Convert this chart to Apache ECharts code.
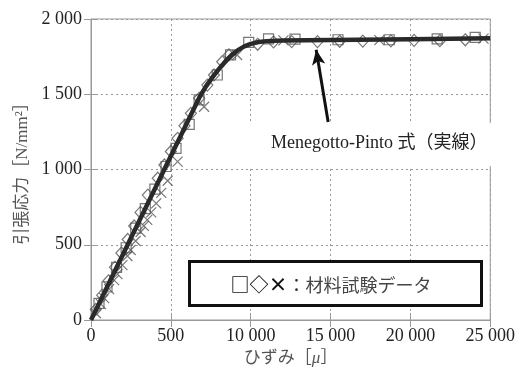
<!DOCTYPE html>
<html>
<head>
<meta charset="utf-8">
<script src="https://cdn.jsdelivr.net/npm/echarts@6/dist/echarts.min.js"></script>
<style>
html,body{margin:0;padding:0;background:#fff;}
#main{width:518px;height:377px;}
</style>
</head>
<body>
<div id="main"></div>
<script>
// ---- data ----
const xTickLabels = ['0', '500', '10 000', '15 000', '20 000', '25 000'];
const yTickLabels = ['0', '500', '1 000', '1 500', '2 000'];

// Menegotto-Pinto curve (strain μ, stress N/mm²)
const curveStrain = [0, 6800, 7200, 7600, 8000, 8400, 8800, 9200, 9600, 10000, 10500, 11000, 12000, 15000, 20000, 25000];
const curveStress = [0, 1482, 1552, 1612, 1667, 1717, 1760, 1793, 1818, 1835, 1847, 1853, 1857, 1861, 1866, 1872];

// test data: squares
const squareStrain = [500, 1000, 1600, 2200, 2800, 3400, 4000, 4700, 5323, 6149, 6770, 7907, 8739, 9876, 11118, 12774, 15466, 18675, 21677, 24058];
const squareStress = [110, 220, 350, 480, 610, 740, 870, 1020, 1141, 1300, 1462, 1628, 1761, 1845, 1868, 1866, 1862, 1862, 1868, 1878];

// test data: diamonds
const diamondStrain = [300, 700, 1100, 1500, 1900, 2300, 2700, 3100, 3559, 4180, 4596, 5000, 5422, 5850, 6255, 6770, 7286, 7702, 8217, 8634, 10435, 11429, 12567, 14182, 15570, 17019, 18778, 20228, 21843, 23437];
const diamondStress = [70, 165, 260, 350, 445, 535, 625, 715, 830, 942, 1030, 1120, 1207, 1290, 1373, 1473, 1561, 1628, 1716, 1761, 1832, 1848, 1850, 1850, 1852, 1853, 1855, 1858, 1856, 1862];

// test data: crosses
const crossStrain = [311, 621, 826, 1137, 1447, 1658, 1969, 2280, 2484, 2795, 3106, 3311, 3522, 3770, 4081, 4400, 4800, 5422, 7081, 9149, 12050, 18054, 24576];
const crossStress = [45, 105, 145, 205, 265, 305, 365, 425, 465, 525, 585, 625, 665, 715, 775, 845, 925, 1052, 1417, 1761, 1858, 1860, 1870];

// annotation arrow (data coords)
const arrowTail = [14850, 1316];
const arrowTip = [14100, 1795];

const annotationText = 'Menegotto-Pinto 式（実線）';
const legendSymbols = '□◇×';
const legendText = '材料試験データ';

const zip = (a, b) => a.map((v, i) => [v, b[i]]);

const serif = '"Liberation Serif", "Times New Roman", "Noto Sans CJK JP", serif';
const gridColor = '#999';

const chart = echarts.init(document.getElementById('main'), null, {renderer: 'canvas'});

const markerStyle = {color: 'transparent', borderColor: '#555', borderWidth: 1.2};

const axisX = (pos, show) => ({
  type: 'value', position: pos, min: 0, max: 25000, interval: 5000,
  axisLine: {show: show, lineStyle: {color: gridColor, width: 1}},
  axisTick: {show: true, inside: true, length: 7, lineStyle: {color: gridColor}},
  axisLabel: {show: show, margin: 7, color: '#222', fontFamily: serif, fontSize: 18,
    formatter: v => xTickLabels[Math.round(v / 5000)]},
  splitLine: {show: show, lineStyle: {color: gridColor, type: [2, 3], width: 1}}
});
const axisY = (pos, show) => ({
  type: 'value', position: pos, min: 0, max: 2000, interval: 500,
  axisLine: {show: show, lineStyle: {color: gridColor, width: 1}},
  axisTick: {show: true, inside: true, length: 7, lineStyle: {color: gridColor}},
  axisLabel: {show: show, margin: 9, color: '#222', fontFamily: serif, fontSize: 18,
    formatter: v => yTickLabels[Math.round(v / 500)]},
  splitLine: {show: show, lineStyle: {color: gridColor, type: [2, 3], width: 1}}
});

const xMain = axisX('bottom', true);
xMain.name = '{a|ひずみ［}{i|μ}{a|］}';
xMain.nameLocation = 'middle';
xMain.nameGap = 29;
xMain.nameTextStyle = {rich: {
  a: {fontFamily: serif, fontSize: 17, color: '#555'},
  i: {fontFamily: serif, fontSize: 17, color: '#555', fontStyle: 'italic'}
}};
const yMain = axisY('left', true);
yMain.name = '引張応力［N/mm²］';
yMain.nameLocation = 'middle';
yMain.nameGap = 58;
yMain.nameTextStyle = {fontFamily: serif, fontSize: 17, color: '#555'};

chart.setOption({
  animation: false,
  backgroundColor: '#fff',
  grid: {left: 91, right: 25, top: 19, bottom: 57, show: true, borderColor: gridColor, borderWidth: 1, backgroundColor: 'transparent'},
  xAxis: [xMain, axisX('top', false)],
  yAxis: [yMain, axisY('right', false)],
  series: [
    {type: 'scatter', name: 'square', data: zip(squareStrain, squareStress), symbol: 'rect', symbolSize: 10, itemStyle: markerStyle, z: 3},
    {type: 'scatter', name: 'diamond', data: zip(diamondStrain, diamondStress), symbol: 'diamond', symbolSize: [11, 12], itemStyle: markerStyle, z: 3},
    {type: 'scatter', name: 'cross', data: zip(crossStrain, crossStress), symbol: 'path://M0,0L10,10M10,0L0,10', symbolSize: 10, itemStyle: markerStyle, z: 3},
    {type: 'line', name: 'curve', data: zip(curveStrain, curveStress), showSymbol: false, smooth: false,
      lineStyle: {color: '#2a2a2a', width: 4.5, join: 'round'}, z: 5,
      markLine: {
        silent: true, symbol: ['none', 'arrow'], symbolSize: [10, 15],
        lineStyle: {color: '#111', width: 3, type: 'solid'},
        label: {show: false},
        data: [[{coord: arrowTail}, {coord: arrowTip}]]
      }
    }
  ],
  graphic: [
    {type: 'rect', z: 1, shape: {x: 247, y: 123, width: 244, height: 43}, style: {fill: '#fff'}},
    {type: 'text', z: 6, x: 271, y: 143, style: {text: annotationText, fontFamily: serif, fontSize: 18, fill: '#222', verticalAlign: 'middle'}},
    {type: 'rect', z: 6, shape: {x: 189.5, y: 261.5, width: 292, height: 44}, style: {fill: '#fff', stroke: '#111', lineWidth: 3}},
    {type: 'text', z: 7, x: 331, y: 285, style: {
      text: '{s|' + legendSymbols + '}{c|：}{t|' + legendText + '}',
      align: 'center', verticalAlign: 'middle',
      rich: {
        s: {fontFamily: '"Noto Sans CJK JP", sans-serif', fontSize: 19, fill: '#111', fontWeight: 'bold'},
        c: {fontFamily: '"Noto Sans CJK JP", sans-serif', fontSize: 18, fill: '#333'},
        t: {fontFamily: '"Noto Sans CJK JP", serif', fontSize: 18, fill: '#444'}
      }
    }}
  ]
});
</script>
</body>
</html>
